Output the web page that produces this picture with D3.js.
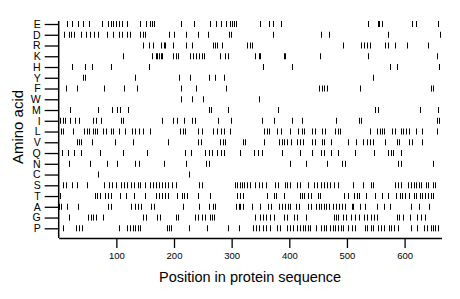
<!DOCTYPE html>
<html>
<head>
<meta charset="utf-8">
<script src="https://cdn.jsdelivr.net/npm/d3@7"></script>
<style>
  body { margin: 0; background: #fff; }
  text { font-family: "Liberation Sans", Arial, sans-serif; fill: #000; }
</style>
</head>
<body>
<div id="wrapper"></div>
<script>
// amino acids, top to bottom
const aminoAcids = ["E", "D", "R", "K", "H", "Y", "F", "W", "M", "I", "L", "V", "Q", "N", "C", "S", "T", "A", "G", "P"];

// residue positions of each amino acid
const posE = [14, 23, 33, 42, 53, 75, 85, 90, 95, 100, 105, 110, 118, 141, 152, 158, 161, 165, 212, 235, 263, 273, 282, 290, 297, 301, 304, 308, 350, 364, 371, 386, 537, 553, 556, 560, 613, 619, 658];
const posD = [9, 18, 21, 27, 39, 47, 54, 61, 68, 84, 94, 105, 109, 119, 124, 141, 146, 150, 192, 200, 221, 242, 259, 296, 299, 371, 455, 469, 571, 661];
const posR = [146, 156, 164, 178, 182, 185, 198, 220, 231, 267, 271, 275, 284, 327, 332, 336, 494, 525, 530, 535, 540, 566, 572, 584, 604, 641];
const posK = [111, 161, 168, 171, 174, 177, 180, 198, 203, 207, 228, 233, 238, 243, 248, 252, 279, 288, 293, 341, 347, 350, 390, 392, 454, 537, 657];
const posH = [23, 46, 57, 90, 156, 354, 405, 574, 587, 660];
const posY = [42, 46, 133, 209, 228, 260, 271, 287, 545];
const posF = [12, 32, 79, 114, 136, 213, 238, 290, 452, 456, 461, 465, 523, 645, 649];
const posW = [212, 231, 251, 348];
const posM = [20, 68, 92, 101, 107, 120, 260, 264, 293, 380, 549, 553, 626, 658];
const posI = [3, 7, 11, 20, 28, 36, 60, 65, 74, 108, 112, 179, 198, 206, 218, 231, 236, 277, 299, 352, 374, 404, 422, 481, 521, 525, 656, 660];
const posL = [4, 8, 25, 44, 49, 53, 59, 63, 67, 77, 82, 91, 95, 105, 115, 127, 133, 139, 146, 158, 211, 215, 219, 241, 249, 268, 275, 281, 287, 297, 356, 361, 365, 379, 385, 402, 415, 422, 426, 440, 444, 456, 462, 480, 484, 488, 540, 552, 557, 561, 565, 579, 584, 594, 598, 603, 608, 620, 631, 656];
const posV = [32, 35, 39, 57, 97, 129, 189, 242, 246, 280, 285, 289, 319, 324, 356, 382, 387, 391, 396, 403, 414, 419, 424, 440, 444, 457, 461, 472, 501, 515, 527, 534, 540, 545, 566, 586, 591, 608, 613, 630];
const posQ = [5, 16, 26, 38, 71, 112, 153, 219, 229, 253, 261, 266, 274, 282, 286, 315, 339, 345, 352, 388, 419, 440, 455, 460, 472, 485, 514, 547, 571, 576, 580, 594];
const posN = [17, 55, 83, 101, 133, 140, 183, 221, 255, 260, 402, 429, 465, 492, 497, 589, 593, 649];
const posC = [68, 226];
const posS = [8, 13, 23, 32, 49, 78, 87, 93, 100, 108, 113, 118, 125, 131, 137, 141, 149, 158, 163, 168, 174, 179, 185, 190, 197, 204, 244, 249, 306, 310, 314, 318, 322, 327, 331, 341, 347, 353, 359, 376, 380, 392, 396, 402, 413, 419, 433, 443, 448, 455, 461, 466, 471, 477, 485, 511, 527, 542, 545, 584, 588, 594, 606, 611, 616, 620, 625, 629, 637, 641, 649, 653];
const posT = [2, 63, 67, 71, 80, 86, 90, 106, 116, 130, 149, 169, 174, 179, 184, 190, 205, 214, 218, 222, 242, 263, 310, 314, 319, 361, 374, 377, 391, 418, 422, 426, 433, 438, 449, 453, 495, 501, 513, 517, 521, 533, 548, 561, 572, 585, 592, 596, 601, 607, 617, 620, 626, 631, 636, 640, 645, 649];
const posA = [1, 4, 15, 33, 86, 91, 126, 132, 137, 142, 160, 165, 216, 244, 260, 267, 271, 307, 312, 315, 319, 335, 350, 363, 368, 382, 387, 393, 397, 402, 411, 416, 432, 438, 446, 451, 455, 460, 464, 469, 475, 481, 486, 492, 497, 508, 511, 522, 531, 552, 565, 575, 611, 625, 642];
const posG = [18, 51, 56, 60, 65, 77, 147, 152, 170, 175, 204, 207, 237, 242, 248, 254, 262, 266, 270, 341, 350, 355, 360, 366, 373, 390, 396, 409, 413, 429, 477, 481, 485, 494, 498, 507, 514, 521, 529, 534, 542, 547, 552, 586, 590, 598, 609, 622, 628, 636];
const posP = [7, 30, 35, 40, 105, 118, 124, 129, 133, 137, 141, 188, 191, 195, 226, 258, 293, 312, 337, 343, 348, 354, 360, 366, 378, 384, 396, 401, 407, 414, 419, 423, 427, 432, 436, 447, 455, 460, 464, 470, 475, 480, 485, 490, 494, 501, 509, 514, 531, 535, 541, 546, 553, 559, 564, 573, 577, 581, 588, 611, 622, 634, 639, 645, 649, 653, 658];

const xTicks = [100, 200, 300, 400, 500, 600];
const seqLength = 664;

var sites = {
  E: posE, D: posD, R: posR, K: posK, H: posH, Y: posY, F: posF, W: posW, M: posM, I: posI,
  L: posL, V: posV, Q: posQ, N: posN, C: posC, S: posS, T: posT, A: posA, G: posG, P: posP
};

var rows = [];
aminoAcids.forEach(aa => {
  sites[aa].forEach(p => rows.push({aa: aa, pos: p}));
});

var dimension = {
  width: 460,
  height: 299,
  margin: { top: 21, right: 18.5, bottom: 61, left: 58.7 }
};
dimension.boundedBottom = dimension.height - dimension.margin.bottom;

var x = d3.scaleLinear()
  .domain([0, seqLength])
  .range([dimension.margin.left, dimension.width - dimension.margin.right]);

var y = d3.scalePoint()
  .domain(aminoAcids)
  .range([24, 228.3]);

const svg = d3.select("#wrapper")
  .append("svg")
  .attr("width", dimension.width)
  .attr("height", dimension.height);

// rug ticks
svg.append("g")
  .selectAll("line.site")
  .data(rows)
  .enter()
  .append("line")
  .attr("class", "site")
  .attr("x1", d => Math.round(x(d.pos)) + 0.5)
  .attr("x2", d => Math.round(x(d.pos)) + 0.5)
  .attr("y1", d => y(d.aa) - 3)
  .attr("y2", d => y(d.aa) + 3)
  .style("stroke", "#000")
  .style("stroke-width", 1);

// x axis
var xAxis = svg.append("g")
  .attr("transform", `translate(0,${dimension.boundedBottom})`)
  .call(d3.axisBottom(x).tickValues(xTicks).tickSize(10).tickSizeOuter(0).tickPadding(4));
xAxis.select(".domain").style("stroke", "#000").style("stroke-width", 1.5);
xAxis.selectAll(".tick line").style("stroke", "#000").style("stroke-width", 1.3);
xAxis.selectAll(".tick text").style("font-size", "9.5px");

// y axis
var yAxis = svg.append("g")
  .attr("transform", `translate(${dimension.margin.left},0)`)
  .call(d3.axisLeft(y).tickSize(14).tickPadding(4));
yAxis.select(".domain").remove();
yAxis.selectAll(".tick line").style("stroke", "#000").style("stroke-width", 1.3);
yAxis.selectAll(".tick text").style("font-size", "10.5px");

svg.append("line")
  .attr("x1", dimension.margin.left)
  .attr("x2", dimension.margin.left)
  .attr("y1", dimension.margin.top)
  .attr("y2", dimension.boundedBottom)
  .style("stroke", "#000")
  .style("stroke-width", 1.5);

// titles
svg.append("text")
  .attr("x", (x.range()[0] + x.range()[1]) / 2)
  .attr("y", 282)
  .attr("text-anchor", "middle")
  .style("font-size", "14.5px")
  .text("Position in protein sequence");

svg.append("text")
  .attr("transform", "translate(23,127) rotate(-90)")
  .attr("text-anchor", "middle")
  .style("font-size", "15px")
  .text("Amino acid");
</script>
</body>
</html>
